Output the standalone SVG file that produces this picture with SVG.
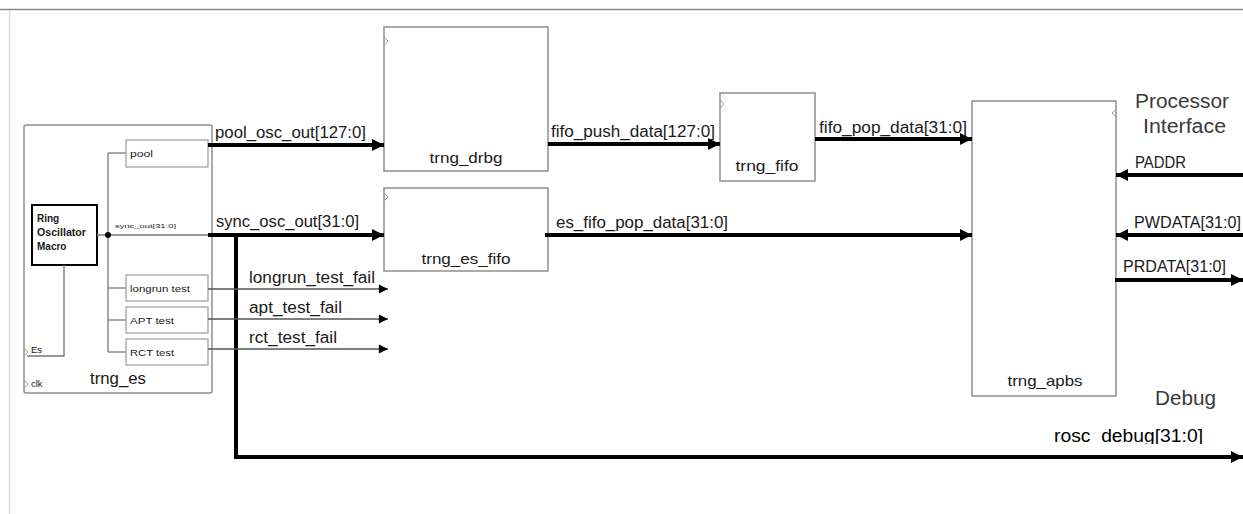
<svg xmlns="http://www.w3.org/2000/svg" width="1243" height="514" viewBox="0 0 1243 514">
<style>
text{font-family:"Liberation Sans","Open Sans",sans-serif;fill:#1a1a1a}
.box{fill:#fff;stroke:#8f8f8f;stroke-width:1.5}
.sub{fill:#fff;stroke:#9a9a9a;stroke-width:1.2}
.bus{stroke:#000;stroke-width:4;fill:none}
.sig{stroke:#555;stroke-width:1.3;fill:none}
.inner{stroke:#777;stroke-width:1.3;fill:none}
.lbl{font-size:16px}
.blk{font-size:15px;text-anchor:middle}
.tiny{font-size:9.5px}
.big{font-size:20px;fill:#3a3a3a}
</style>
<defs>
<marker id="ah" viewBox="0 0 10 10" refX="10" refY="5" markerWidth="4.5" markerHeight="3" orient="auto" markerUnits="strokeWidth"><path d="M0,0L10,5L0,10z" fill="#000"/></marker>
<marker id="as" viewBox="0 0 10 10" refX="10" refY="5" markerWidth="9" markerHeight="7" orient="auto" markerUnits="strokeWidth"><path d="M0,0L10,5L0,10z" fill="#000"/></marker>
<clipPath id="clipRosc"><rect x="1040" y="420" width="170" height="24"/></clipPath>
</defs>
<rect width="1243" height="514" fill="#fff"/>
<line x1="0" y1="9.5" x2="1243" y2="9.5" stroke="#888" stroke-width="1.5"/>
<line x1="9.5" y1="10" x2="9.5" y2="514" stroke="#ddd" stroke-width="1.5"/>

<g id="trng_es">
<rect class="box" x="24" y="125" width="188" height="268" rx="2"/>
<rect x="32" y="205" width="65" height="60" fill="#fff" stroke="#000" stroke-width="2"/>
<text x="37" y="222" style="font-size:10px;font-weight:bold">Ring</text>
<text x="37" y="236" style="font-size:10px;font-weight:bold" textLength="49" lengthAdjust="spacingAndGlyphs">Oscillator</text>
<text x="37" y="250" style="font-size:10px;font-weight:bold">Macro</text>
<line class="inner" x1="108" y1="153" x2="108" y2="352"/>
<line class="inner" x1="97" y1="235" x2="212" y2="235"/>
<circle cx="108" cy="235" r="3" fill="#000"/>
<line class="inner" x1="108" y1="153" x2="126" y2="153"/>
<line class="inner" x1="108" y1="288" x2="126" y2="288"/>
<line class="inner" x1="108" y1="320" x2="126" y2="320"/>
<line class="inner" x1="108" y1="352" x2="126" y2="352"/>
<polyline class="inner" points="64,265 64,356 27,356"/>
<rect class="sub" x="126" y="140" width="82" height="27"/>
<text class="tiny" x="130" y="157" textLength="23" lengthAdjust="spacingAndGlyphs">pool</text>
<text x="115" y="228" style="font-size:6px" fill="#444" textLength="61" lengthAdjust="spacingAndGlyphs">sync_out[31:0]</text>
<rect class="sub" x="126" y="275" width="82" height="26"/>
<text class="tiny" x="130" y="292" textLength="60" lengthAdjust="spacingAndGlyphs">longrun test</text>
<rect class="sub" x="126" y="307" width="82" height="26"/>
<text class="tiny" x="130" y="324" textLength="44" lengthAdjust="spacingAndGlyphs">APT  test</text>
<rect class="sub" x="126" y="339" width="82" height="26"/>
<text class="tiny" x="130" y="356" textLength="44" lengthAdjust="spacingAndGlyphs">RCT  test</text>
<text class="tiny" x="31" y="353">Es</text>
<polyline points="24,348 28,352 24,356" fill="none" stroke="#999" stroke-width="1"/>
<polyline points="24,380 28,384 24,388" fill="none" stroke="#999" stroke-width="1"/>
<text class="tiny" x="31" y="387">clk</text>
<text x="118" y="384" style="font-size:17px;text-anchor:middle" textLength="56" lengthAdjust="spacingAndGlyphs">trng_es</text>
</g>

<g id="trng_drbg">
<rect class="box" x="384" y="27" width="164" height="144"/>
<polyline points="384,37 388,41 384,45" fill="none" stroke="#999" stroke-width="1"/>
<text class="blk" x="466" y="163" textLength="73" lengthAdjust="spacingAndGlyphs">trng_drbg</text>
</g>

<g id="trng_es_fifo">
<rect class="box" x="384" y="188" width="164" height="83"/>
<polyline points="384,193 388,197 384,201" fill="none" stroke="#999" stroke-width="1"/>
<text class="blk" x="466" y="264" textLength="89" lengthAdjust="spacingAndGlyphs">trng_es_fifo</text>
</g>

<g id="trng_fifo">
<rect class="box" x="720" y="93" width="95" height="88"/>
<polyline points="720,100 724,104 720,108" fill="none" stroke="#999" stroke-width="1"/>
<text class="blk" x="767" y="171" textLength="63" lengthAdjust="spacingAndGlyphs">trng_fifo</text>
</g>

<g id="trng_apbs">
<rect class="box" x="972" y="101" width="144" height="295"/>
<polyline points="1116,109 1112,113 1116,117" fill="none" stroke="#999" stroke-width="1"/>
<text class="blk" x="1045" y="386" textLength="75" lengthAdjust="spacingAndGlyphs">trng_apbs</text>
</g>

<g id="processor_interface">
<text class="big" x="1135" y="108" textLength="94" lengthAdjust="spacingAndGlyphs">Processor</text>
<text class="big" x="1143" y="133" textLength="83" lengthAdjust="spacingAndGlyphs">Interface</text>
</g>
<g id="debug">
<text class="big" x="1155" y="405" textLength="61" lengthAdjust="spacingAndGlyphs">Debug</text>
</g>

<g id="connectors">
<line class="bus" x1="208" y1="145" x2="384" y2="145" marker-end="url(#ah)"/>
<line class="bus" x1="208" y1="235" x2="384" y2="235" marker-end="url(#ah)"/>
<polyline class="bus" points="236,235 236,457 1243,457" marker-end="url(#ah)"/>
<line class="sig" x1="208" y1="289" x2="388" y2="289" marker-end="url(#as)"/>
<line class="sig" x1="208" y1="319" x2="388" y2="319" marker-end="url(#as)"/>
<line class="sig" x1="208" y1="349" x2="388" y2="349" marker-end="url(#as)"/>
<line class="bus" x1="548" y1="144" x2="720" y2="144" marker-end="url(#ah)"/>
<line class="bus" x1="815" y1="139" x2="972" y2="139" marker-end="url(#ah)"/>
<line class="bus" x1="545" y1="235" x2="972" y2="235" marker-end="url(#ah)"/>
<line class="bus" x1="1243" y1="175" x2="1116" y2="175" marker-end="url(#ah)"/>
<line class="bus" x1="1243" y1="235" x2="1116" y2="235" marker-end="url(#ah)"/>
<line class="bus" x1="1115" y1="280" x2="1243" y2="280" marker-end="url(#ah)"/>
<text class="lbl" x="215" y="138" textLength="151" lengthAdjust="spacingAndGlyphs">pool_osc_out[127:0]</text>
<text class="lbl" x="216" y="227" textLength="143" lengthAdjust="spacingAndGlyphs">sync_osc_out[31:0]</text>
<text class="lbl" x="249" y="283" textLength="126" lengthAdjust="spacingAndGlyphs">longrun_test_fail</text>
<text class="lbl" x="249" y="313" textLength="93" lengthAdjust="spacingAndGlyphs">apt_test_fail</text>
<text class="lbl" x="249" y="343" textLength="88" lengthAdjust="spacingAndGlyphs">rct_test_fail</text>
<text class="lbl" x="551" y="137" textLength="164" lengthAdjust="spacingAndGlyphs">fifo_push_data[127:0]</text>
<text class="lbl" x="819" y="133" textLength="148" lengthAdjust="spacingAndGlyphs">fifo_pop_data[31:0]</text>
<text class="lbl" x="556" y="228" textLength="172" lengthAdjust="spacingAndGlyphs">es_fifo_pop_data[31:0]</text>
<text class="lbl" x="1135" y="168" textLength="51" lengthAdjust="spacingAndGlyphs">PADDR</text>
<text class="lbl" x="1134" y="228" textLength="107" lengthAdjust="spacingAndGlyphs">PWDATA[31:0]</text>
<text class="lbl" x="1123" y="272" textLength="103" lengthAdjust="spacingAndGlyphs">PRDATA[31:0]</text>
<text x="1054" y="442" clip-path="url(#clipRosc)" style="font-size:18px;fill:#000" textLength="149" lengthAdjust="spacingAndGlyphs">rosc_debug[31:0]</text>
</g>
</svg>
